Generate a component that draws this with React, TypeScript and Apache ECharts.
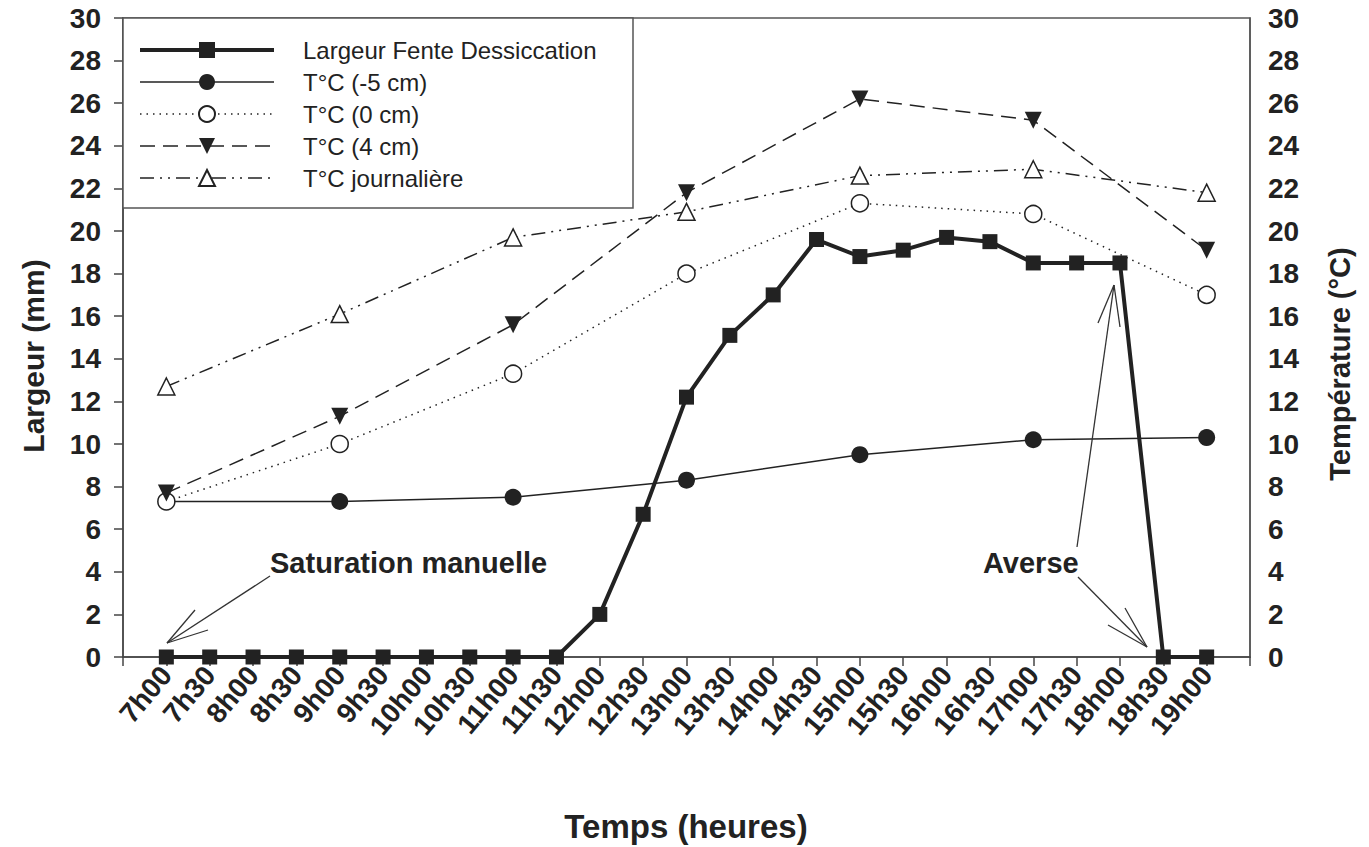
import React, { useEffect, useRef } from "react";
import * as echarts from "echarts";

const times = [
  "7h00", "7h30", "8h00", "8h30", "9h00", "9h30", "10h00", "10h30", "11h00", "11h30",
  "12h00", "12h30", "13h00", "13h30", "14h00", "14h30", "15h00", "15h30", "16h00", "16h30",
  "17h00", "17h30", "18h00", "18h30", "19h00",
];
const largeur = [0, 0, 0, 0, 0, 0, 0, 0, 0, 0, 2.0, 6.7, 12.2, 15.1, 17.0, 19.6, 18.8, 19.1, 19.7, 19.5, 18.5, 18.5, 18.5, 0, 0];

const tempTimes = ["7h00", "9h00", "11h00", "13h00", "15h00", "17h00", "19h00"];
const tMinus5 = [7.3, 7.3, 7.5, 8.3, 9.5, 10.2, 10.3];
const t0 = [7.3, 10.0, 13.3, 18.0, 21.3, 20.8, 17.0];
const t4 = [7.7, 11.3, 15.6, 21.8, 26.2, 25.2, 19.1];
const tJour = [12.7, 16.1, 19.7, 20.9, 22.6, 22.9, 21.8];

const yTicks = [0, 30, 2]; // min, max, interval

const seriesNames = [
  "Largeur Fente Dessiccation",
  "T°C (-5 cm)",
  "T°C (0 cm)",
  "T°C (4 cm)",
  "T°C journalière",
];

const FONT = '"Liberation Sans", Arial, Helvetica, sans-serif';
const INK = "#222";

export default function App() {
  const ref = useRef<HTMLDivElement>(null);
  useEffect(() => {
    document.body.style.margin = "0";
    const chart = echarts.init(ref.current!, null, { renderer: "svg" });
    const axisCats = ["", ...times, ""];
    const pair = (ts: string[], vs: number[]) => ts.map((t, i) => [t, vs[i]]);

    const yAxisBase = {
      type: "value",
      min: yTicks[0],
      max: yTicks[1],
      interval: yTicks[2],
      splitLine: { show: false },
      axisLabel: { color: INK, fontSize: 28, fontWeight: "bold", fontFamily: FONT },
    };

    const option: any = {
      animation: false,
      backgroundColor: "#fff",
      grid: {
        left: 123, right: 119, top: 18, bottom: 190,
        show: true, borderColor: "#555", borderWidth: 1.5, backgroundColor: "transparent",
      },
      legend: {
        orient: "vertical",
        left: 133,
        top: 33,
        itemWidth: 134,
        itemHeight: 20,
        itemGap: 8,
        data: seriesNames.map((n, i) => (i === 0 ? { name: n, lineStyle: { width: 4 } } : { name: n, lineStyle: { width: 1.5 } })),
        textStyle: { color: INK, fontSize: 24, fontFamily: FONT, padding: [0, 0, 0, 24], lineHeight: 22 },
        z: 5,
      },
      xAxis: {
        type: "category",
        data: axisCats,
        boundaryGap: false,
        axisLine: { lineStyle: { color: "#444", width: 1.5 } },
        axisTick: { alignWithLabel: true, interval: 0, length: 9, lineStyle: { color: "#444", width: 1.5 } },
        axisLabel: {
          interval: 0, rotate: 50, margin: 13,
          color: INK, fontSize: 28, fontWeight: "bold", fontFamily: FONT,
        },
      },
      yAxis: [
        {
          ...yAxisBase,
          position: "left",
          axisLine: { show: true, lineStyle: { color: "#444", width: 1.5 } },
          axisTick: { show: true, length: 9, lineStyle: { color: "#444", width: 1.5 } },
          axisLabel: { ...yAxisBase.axisLabel, margin: 22 },
        },
        {
          ...yAxisBase,
          position: "right",
          axisLine: { show: true, lineStyle: { color: "#555", width: 1.5 } },
          axisTick: { show: false },
          axisLabel: { ...yAxisBase.axisLabel, margin: 18 },
        },
      ],
      series: [
        {
          name: seriesNames[0], type: "line", yAxisIndex: 0,
          data: pair(times, largeur),
          symbol: "rect", symbolSize: 15,
          itemStyle: { color: INK },
          lineStyle: { color: INK, width: 4 },
          z: 6,
        },
        {
          name: seriesNames[1], type: "line", yAxisIndex: 1,
          data: pair(tempTimes, tMinus5),
          symbol: "circle", symbolSize: 17,
          itemStyle: { color: INK },
          lineStyle: { color: INK, width: 1.5 },
        },
        {
          name: seriesNames[2], type: "line", yAxisIndex: 1,
          data: pair(tempTimes, t0),
          symbol: "circle", symbolSize: 17,
          itemStyle: { color: "#fff", borderColor: INK, borderWidth: 1.5 },
          lineStyle: { color: INK, width: 1.5, type: [1.5, 5] },
        },
        {
          name: seriesNames[3], type: "line", yAxisIndex: 1,
          data: pair(tempTimes, t4),
          symbol: "triangle", symbolSize: 17, symbolRotate: 180,
          itemStyle: { color: INK },
          lineStyle: { color: INK, width: 1.5, type: [15, 8] },
        },
        {
          name: seriesNames[4], type: "line", yAxisIndex: 1,
          data: pair(tempTimes, tJour),
          symbol: "triangle", symbolSize: 17,
          itemStyle: { color: "#fff", borderColor: INK, borderWidth: 1.5 },
          lineStyle: { color: INK, width: 1.5, type: [14, 6, 2, 6, 2, 6] },
        },
      ],
      graphic: [
        {
          type: "rect", z: 3,
          shape: { x: 123, y: 18, width: 510, height: 190 },
          style: { fill: "#fff", stroke: "#555", lineWidth: 1.5 },
        },
        {
          type: "text", x: 33, y: 356, rotation: Math.PI / 2,
          style: { text: "Largeur (mm)", x: 0, y: 0, textAlign: "center", textVerticalAlign: "middle", fontSize: 30, fontWeight: "bold", fontFamily: FONT, fill: INK },
        },
        {
          type: "text", x: 1340, y: 364, rotation: Math.PI / 2,
          style: { text: "Température (°C)", x: 0, y: 0, textAlign: "center", textVerticalAlign: "middle", fontSize: 29, fontWeight: "bold", fontFamily: FONT, fill: INK },
        },
        {
          type: "text",
          style: { text: "Temps (heures)", x: 686, y: 826, textAlign: "center", textVerticalAlign: "middle", fontSize: 33, fontWeight: "bold", fontFamily: FONT, fill: INK },
        },
        {
          type: "text", z: 7,
          style: { text: "Saturation manuelle", x: 270, y: 563, textAlign: "left", textVerticalAlign: "middle", fontSize: 29, fontWeight: "bold", fontFamily: FONT, fill: INK },
        },
        {
          type: "text", z: 7,
          style: { text: "Averse", x: 983, y: 563, textAlign: "left", textVerticalAlign: "middle", fontSize: 29, fontWeight: "bold", fontFamily: FONT, fill: INK },
        },
        // Saturation arrow
        { type: "line", z: 7, shape: { x1: 270, y1: 576, x2: 167, y2: 643 }, style: { stroke: "#333", lineWidth: 1.3 } },
        { type: "line", z: 7, shape: { x1: 167, y1: 643, x2: 195, y2: 610 }, style: { stroke: "#333", lineWidth: 1.3 } },
        { type: "line", z: 7, shape: { x1: 167, y1: 643, x2: 208, y2: 630 }, style: { stroke: "#333", lineWidth: 1.3 } },
        // Averse arrow to 18h30
        { type: "line", z: 7, shape: { x1: 1078, y1: 577, x2: 1147, y2: 647 }, style: { stroke: "#333", lineWidth: 1.3 } },
        { type: "line", z: 7, shape: { x1: 1147, y1: 647, x2: 1125, y2: 608 }, style: { stroke: "#333", lineWidth: 1.3 } },
        { type: "line", z: 7, shape: { x1: 1147, y1: 647, x2: 1108, y2: 625 }, style: { stroke: "#333", lineWidth: 1.3 } },
        // Averse arrow to 18h00
        { type: "line", z: 7, shape: { x1: 1077, y1: 547, x2: 1114, y2: 285 }, style: { stroke: "#333", lineWidth: 1.3 } },
        { type: "line", z: 7, shape: { x1: 1114, y1: 285, x2: 1098, y2: 323 }, style: { stroke: "#333", lineWidth: 1.3 } },
        { type: "line", z: 7, shape: { x1: 1114, y1: 285, x2: 1120, y2: 327 }, style: { stroke: "#333", lineWidth: 1.3 } },
      ],
    };
    chart.setOption(option);
    return () => chart.dispose();
  }, []);
  return <div ref={ref} style={{ width: 1369, height: 847 }} />;
}
